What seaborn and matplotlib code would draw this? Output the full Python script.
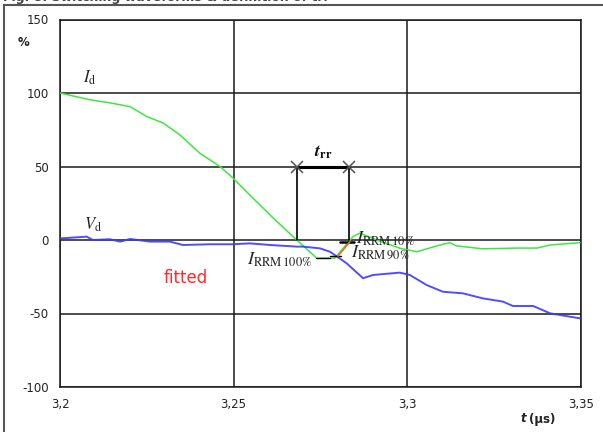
import matplotlib
matplotlib.use("Agg")
import matplotlib.pyplot as plt
from matplotlib.lines import Line2D
import numpy as np
import pandas as pd
import seaborn as sns

# Diode reverse-recovery waveforms (percent of nominal)
t_id = [3.2000, 3.2086, 3.2144, 3.2202, 3.2250, 3.2297, 3.2346, 3.2403, 3.2461,
        3.2498, 3.2547, 3.2614, 3.2682, 3.2740, 3.2792, 3.2844, 3.2864, 3.2912,
        3.2979, 3.3028, 3.3086, 3.3123, 3.3142, 3.3218, 3.3316, 3.3374, 3.3412,
        3.3498]
i_d = [100, 95.4, 93.3, 90.7, 84.0, 79.6, 71.4, 59.0, 50.0,
       42.2, 30.6, 15.0, 0.0, -12.4, -12.3, 2.3, 4.7, 0.0,
       -5.6, -8.0, -4.0, -1.8, -4.0, -6.0, -5.5, -5.5, -3.4,
       -1.8]

t_vd = [3.2000, 3.2035, 3.2077, 3.2095, 3.2144, 3.2173, 3.2202, 3.2259, 3.2317,
        3.2354, 3.2432, 3.2498, 3.2547, 3.2605, 3.2682, 3.2700, 3.2749, 3.2778,
        3.2826, 3.2873, 3.2902, 3.2979, 3.3008, 3.3056, 3.3103, 3.3161, 3.3218,
        3.3276, 3.3305, 3.3363, 3.3412, 3.3498]
v_d = [1.1, 1.6, 2.3, 0.0, 0.5, -1.1, 0.7, -1.1, -1.1,
       -3.4, -2.9, -2.9, -2.3, -3.4, -4.5, -4.5, -5.7, -8.0,
       -15.9, -26.0, -23.8, -22.2, -23.8, -30.6, -35.2, -36.3, -39.7,
       -41.9, -44.9, -44.9, -49.9, -53.3]

# Recovery definition points
i_rrm = -12.3
t_rrm100 = [3.2738, 3.2778]
t_rrm90 = [3.2778, 3.2810]
t_rrm10 = [3.2807, 3.2846]
t_fit = [3.2801, 3.2835]
i_fit = [-10.9, -1.2]
t_rr = [3.2684, 3.2833]
trr_level = 50

x_ticks = [3.2, 3.25, 3.3, 3.35]
x_labels = ["3,2", "3,25", "3,3", "3,35"]
y_ticks = [-100, -50, 0, 50, 100, 150]

sns.set_theme(style="white")
plt.rcParams["font.family"] = ["DejaVu Sans"]
plt.rcParams["mathtext.fontset"] = "stix"
plt.rcParams["axes.unicode_minus"] = False

W, H = 603, 432
fig = plt.figure(figsize=(W / 100, H / 100), dpi=100)
ax = fig.add_axes([60 / W, 1 - 387 / H, (580.7 - 60) / W, (387 - 19.5) / H])

df_i = pd.DataFrame({"t": t_id, "v": i_d})
df_v = pd.DataFrame({"t": t_vd, "v": v_d})
sns.lineplot(data=df_i, x="t", y="v", ax=ax, color="#3de83d", lw=1.1, zorder=4)
sns.lineplot(data=df_v, x="t", y="v", ax=ax, color="#3b3bff", lw=1.4, alpha=0.9, zorder=4)

ax.set_xlim(3.2, 3.35)
ax.set_ylim(-100, 150)
ax.set_xticks(x_ticks)
ax.set_xticklabels(x_labels)
ax.set_yticks(y_ticks)
ax.set_xlabel("")
ax.set_ylabel("")
ax.grid(True, color="#1a1a1a", lw=1.1)
ax.set_axisbelow(True)
for s in ax.spines.values():
    s.set_visible(True)
    s.set_color("#1a1a1a")
    s.set_linewidth(1.1)
ax.tick_params(axis="both", direction="out", length=5, width=1.1, color="#1a1a1a",
               labelsize=8.5, labelcolor="#222222", pad=3)
ax.tick_params(axis="x", length=3, pad=5)

# t_rr definition
for tx in t_rr:
    ax.plot([tx, tx], [0, trr_level], color="black", lw=1.2, zorder=5)
ax.plot(t_rr, [trr_level, trr_level], color="black", lw=2.2, zorder=6)
ax.plot(t_rr, [trr_level, trr_level], ls="none", marker="x", ms=8, mew=1.1,
        color="#555555", zorder=7)
ax.text(np.mean(t_rr), trr_level + 4, r"$\boldsymbol{t}_{\mathbf{rr}}$", ha="center",
        va="bottom", fontsize=13, color="#111111")

# I_RRM levels and fitted slope
ax.plot(t_rrm100, [i_rrm, i_rrm], color="black", lw=1.0, zorder=5)
ax.plot(t_rrm90, [0.9 * i_rrm, 0.9 * i_rrm], color="black", lw=1.0, zorder=5)
ax.plot(t_rrm10, [0.1 * i_rrm, 0.1 * i_rrm], color="black", lw=1.8, zorder=5)
ax.plot(t_fit, i_fit, color="#e0702a", lw=1.2, zorder=6)

lab = dict(fontsize=13, color="#222222", zorder=8)
ax.text(3.2726, -13.5, r"$I_{\mathrm{RRM\,100\%}}$", ha="right", va="center", **lab)
ax.text(3.2853, -2.5, r"$I_{\mathrm{RRM\,10\%}}$", ha="left", va="baseline", **lab)
ax.text(3.2838, -11.0, r"$I_{\mathrm{RRM\,90\%}}$", ha="left", va="baseline", **lab)

small = dict(fontsize=12, color="#222222", zorder=8)
ax.text(3.2086, 110.5, r"$I_{\mathrm{d}}$", ha="center", va="center", **small)
ax.text(3.2096, 10.5, r"$V_{\mathrm{d}}$", ha="center", va="center", **small)
ax.text(3.2363, -26, "fitted", ha="center", va="center", fontsize=12, color="#ff2a2a")

# axis units
fig.text(23 / W, 1 - 42 / H, "%", ha="center", va="center", fontsize=8.5,
         fontweight="bold", color="#222222")
fig.text(526 / W, 1 - 419 / H, "t", ha="right", va="center", fontsize=8.5,
         fontweight="bold", style="italic", color="#222222")
fig.text(529 / W, 1 - 419 / H, "(µs)", ha="left", va="center", fontsize=8.5,
         fontweight="bold", color="#222222")

# outer frame and clipped caption
fig.add_artist(Line2D([4 / W, 1.0], [1 - 4.7 / H, 1 - 4.7 / H], transform=fig.transFigure,
                      color="#555555", lw=1.5))
fig.add_artist(Line2D([4 / W, 4 / W], [0.0, 1 - 4.7 / H], transform=fig.transFigure,
                      color="#555555", lw=1.5))
fig.text(3 / W, 1 - 1.2 / H, "Fig. 8: Switching waveforms & definition of trr",
         ha="left", va="baseline", fontsize=9, fontweight="bold", color="#444444")

fig.savefig("out.png", dpi=100)
